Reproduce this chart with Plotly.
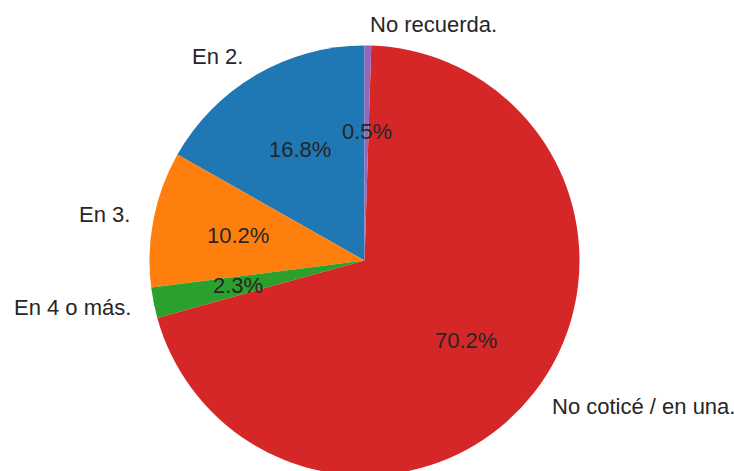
import math
import plotly.graph_objects as go

labels = ["En 2.", "En 3.", "En 4 o más.", "No coticé / en una.", "No recuerda."]
values = [16.8, 10.2, 2.3, 70.2, 0.5]
colors = ["#1f77b4", "#ff7f0e", "#2ca02c", "#d62728", "#9467bd"]

W, H = 734, 480
cx, cy, r = 364.5, 260.5, 215.0  # pixels from figure top-left
font = dict(family="Liberation Sans, Arial, sans-serif", size=22, color="#262626")

total = sum(values)
first_span = 360.0 * values[0] / total

fig = go.Figure(go.Pie(
    labels=labels, values=values, sort=False, direction="counterclockwise",
    rotation=-first_span, marker=dict(colors=colors, line=dict(width=0)),
    textinfo="none", hoverinfo="skip",
    domain=dict(x=[(cx - r) / W, (cx + r) / W], y=[max(0, 1 - (cy + r) / H), 1 - (cy - r) / H]),
))

annotations = []
start = 90.0
for lab, v in zip(labels, values):
    span = 360.0 * v / total
    mid = math.radians(start + span / 2)
    start += span
    c, s = math.cos(mid), math.sin(mid)
    lx, ly = cx + 1.1 * r * c, cy - 1.1 * r * s
    annotations.append(dict(
        x=lx / W, y=1 - ly / H, xref="paper", yref="paper", text=lab, showarrow=False,
        xanchor="left" if c > 0 else "right", yanchor="middle", font=font))
    px, py = cx + 0.6 * r * c, cy - 0.6 * r * s
    annotations.append(dict(
        x=px / W, y=1 - py / H, xref="paper", yref="paper", text=f"{v:.1f}%",
        showarrow=False, xanchor="center", yanchor="middle", font=font))

fig.update_layout(
    width=W, height=H, margin=dict(l=0, r=0, t=0, b=0),
    paper_bgcolor="white", plot_bgcolor="white", showlegend=False,
    annotations=annotations,
)
fig.write_html(
    "out.html",
    config={"displayModeBar": False, "staticPlot": True},
    post_script="document.body.style.margin='0';"
                "document.body.style.overflow='hidden';"
                "document.documentElement.style.overflow='hidden';",
)
